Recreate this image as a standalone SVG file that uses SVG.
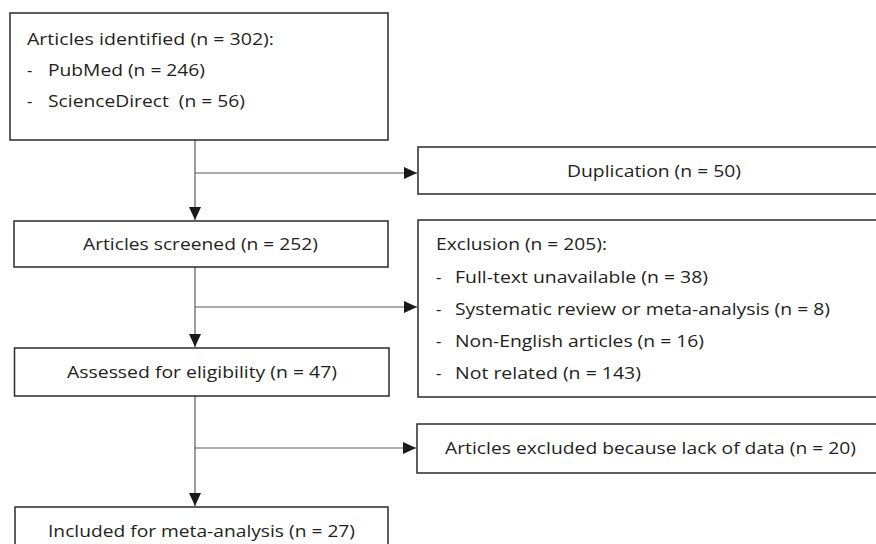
<svg xmlns="http://www.w3.org/2000/svg" width="876" height="544" viewBox="0 0 876 544">
<style>
.box{fill:#fff;stroke:#2b2b2b;stroke-width:1.5}
.t{font-family:"Open Sans","Noto Sans","Liberation Sans",sans-serif;font-size:16.5px;fill:#231f20}
.c{fill:none;stroke:#5a5a5a;stroke-width:1.2}
</style>
<defs>
<marker id="ah" markerUnits="userSpaceOnUse" markerWidth="14" markerHeight="13" refX="13" refY="6" orient="auto">
<path d="M0,0 L13,6 L0,12 Z" fill="#1a1a1a"/>
</marker>
</defs>
<rect width="876" height="544" fill="#fff"/>
<g id="connectors">
<path class="c" d="M195,140 V220" marker-end="url(#ah)"/>
<path class="c" d="M195,173 H417" marker-end="url(#ah)"/>
<path class="c" d="M195,267 V347" marker-end="url(#ah)"/>
<path class="c" d="M195,307 H417" marker-end="url(#ah)"/>
<path class="c" d="M195,396 V506" marker-end="url(#ah)"/>
<path class="c" d="M195,448 H416" marker-end="url(#ah)"/>
</g>
<g id="identified">
<rect class="box" x="10" y="13" width="378" height="127"/>
<text class="t" x="27" y="45" textLength="247" lengthAdjust="spacingAndGlyphs">Articles identified (n = 302):</text>
<text class="t" x="27" y="76">-</text>
<text class="t" x="48" y="76" textLength="157" lengthAdjust="spacingAndGlyphs">PubMed (n = 246)</text>
<text class="t" x="27" y="107">-</text>
<text class="t" x="48" y="107" textLength="197" lengthAdjust="spacingAndGlyphs" xml:space="preserve">ScienceDirect  (n = 56)</text>
</g>
<g id="duplication">
<rect class="box" x="418" y="147" width="480" height="47"/>
<text class="t" x="567" y="177" textLength="174" lengthAdjust="spacingAndGlyphs">Duplication (n = 50)</text>
</g>
<g id="screened">
<rect class="box" x="14" y="221" width="374" height="46"/>
<text class="t" x="83" y="250" textLength="235" lengthAdjust="spacingAndGlyphs">Articles screened (n = 252)</text>
</g>
<g id="exclusion">
<rect class="box" x="418" y="220" width="480" height="177"/>
<text class="t" x="436" y="250" textLength="171" lengthAdjust="spacingAndGlyphs">Exclusion (n = 205):</text>
<text class="t" x="436" y="283">-</text>
<text class="t" x="455" y="283" textLength="253" lengthAdjust="spacingAndGlyphs">Full-text unavailable (n = 38)</text>
<text class="t" x="436" y="315">-</text>
<text class="t" x="455" y="315" textLength="375" lengthAdjust="spacingAndGlyphs">Systematic review or meta-analysis (n = 8)</text>
<text class="t" x="436" y="347">-</text>
<text class="t" x="455" y="347" textLength="249" lengthAdjust="spacingAndGlyphs">Non-English articles (n = 16)</text>
<text class="t" x="436" y="379">-</text>
<text class="t" x="455" y="379" textLength="186" lengthAdjust="spacingAndGlyphs">Not related (n = 143)</text>
</g>
<g id="eligibility">
<rect class="box" x="14.5" y="348" width="374.5" height="48"/>
<text class="t" x="67" y="378" textLength="270" lengthAdjust="spacingAndGlyphs">Assessed for eligibility (n = 47)</text>
</g>
<g id="lackofdata">
<rect class="box" x="417" y="424" width="480" height="49"/>
<text class="t" x="445" y="454" textLength="411" lengthAdjust="spacingAndGlyphs">Articles excluded because lack of data (n = 20)</text>
</g>
<g id="included">
<rect class="box" x="15" y="507" width="373" height="50"/>
<text class="t" x="48" y="537" textLength="307" lengthAdjust="spacingAndGlyphs">Included for meta-analysis (n = 27)</text>
</g>
</svg>
